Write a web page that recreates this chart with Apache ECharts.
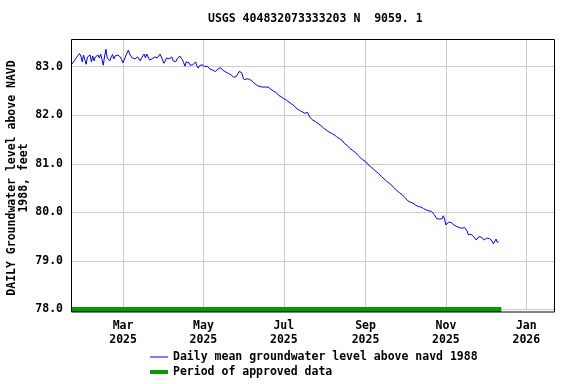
<!DOCTYPE html>
<html>
<head>
<meta charset="utf-8">
<script src="https://cdn.jsdelivr.net/npm/echarts@6/dist/echarts.min.js"></script>
<style>
html,body{margin:0;padding:0;background:#fff;}
#chart{width:576px;height:384px;}
</style>
</head>
<body>
<div id="chart"></div>
<script>
// ---- data ----
const titleText = 'USGS 404832073333203 N  9059. 1';
const yAxisTitle = 'DAILY Groundwater level above NAVD\n1988, feet';
const seriesName = 'Daily mean groundwater level above navd 1988';
const approvedName = 'Period of approved data';
const firstDay = [2025, 0, 21];          // daily values start 2025-01-21
const levels = [
83.05, 83.07, 83.12, 83.09, 83.20, 83.24, 83.27, 83.22, 83.10, 83.24,
83.14, 83.05, 83.20, 83.16, 83.24, 83.10, 83.22, 83.12, 83.20, 83.16,
83.24, 83.18, 83.26, 83.15, 83.03, 83.22, 83.36, 83.18, 83.22, 83.12,
83.20, 83.25, 83.16, 83.22, 83.18, 83.24, 83.27, 83.20, 83.14, 83.08,
83.10, 83.22, 83.28, 83.34, 83.26, 83.22, 83.18, 83.20, 83.16, 83.14,
83.20, 83.16, 83.12, 83.18, 83.22, 83.26, 83.18, 83.26, 83.20, 83.14,
83.10, 83.16, 83.14, 83.20, 83.24, 83.18, 83.22, 83.26, 83.20, 83.14,
83.07, 83.12, 83.18, 83.14, 83.16, 83.18, 83.20, 83.12, 83.16, 83.10,
83.16, 83.20, 83.22, 83.24, 83.14, 83.08, 83.01, 83.10, 83.06, 83.08,
83.03, 83.06, 83.04, 83.08, 83.10, 83.02, 82.97, 83.02, 83.00, 83.04,
83.05, 83.00, 82.98, 83.01, 82.97, 82.95, 82.96, 82.93, 82.92, 82.90,
82.93, 82.95, 82.97, 82.98, 82.95, 82.92, 82.90, 82.89, 82.87, 82.86,
82.85, 82.83, 82.81, 82.78, 82.76, 82.80, 82.85, 82.90, 82.92, 82.88,
82.78, 82.73, 82.74, 82.75, 82.75, 82.74, 82.72, 82.70, 82.67, 82.65,
82.63, 82.61, 82.60, 82.59, 82.59, 82.58, 82.58, 82.58, 82.58, 82.58, 82.57,
82.54, 82.52, 82.50, 82.48, 82.47, 82.44, 82.41, 82.43, 82.38, 82.35,
82.34, 82.33, 82.31, 82.28, 82.27, 82.25, 82.23, 82.21, 82.19, 82.15,
82.13, 82.12, 82.10, 82.08, 82.07, 82.05, 82.04, 82.03, 82.06, 82.00,
81.95, 81.92, 81.90, 81.89, 81.87, 81.84, 81.83, 81.82, 81.79, 81.76,
81.74, 81.72, 81.70, 81.68, 81.66, 81.65, 81.63, 81.62, 81.60, 81.57,
81.56, 81.54, 81.52, 81.50, 81.49, 81.46, 81.42, 81.40, 81.38, 81.34,
81.32, 81.29, 81.28, 81.26, 81.24, 81.20, 81.18, 81.16, 81.13, 81.10,
81.08, 81.07, 81.05, 81.01, 80.98, 80.96, 80.94, 80.91, 80.89, 80.86,
80.84, 80.82, 80.80, 80.77, 80.74, 80.72, 80.69, 80.66, 80.64, 80.62,
80.60, 80.58, 80.55, 80.53, 80.50, 80.47, 80.44, 80.42, 80.40, 80.38,
80.36, 80.33, 80.30, 80.26, 80.24, 80.22, 80.21, 80.20, 80.19, 80.17,
80.15, 80.13, 80.12, 80.12, 80.11, 80.10, 80.08, 80.06, 80.05, 80.04, 80.03,
80.03, 80.02, 80.00, 79.96, 79.92, 79.87, 79.86, 79.86, 79.85, 79.87,
79.93, 79.86, 79.74, 79.78, 79.80, 79.76, 79.79, 79.76, 79.74, 79.72,
79.71, 79.70, 79.69, 79.68, 79.67, 79.66, 79.69, 79.73, 79.62, 79.54,
79.56, 79.55, 79.54, 79.50, 79.47, 79.43, 79.46, 79.50, 79.48, 79.49,
79.45, 79.43, 79.42, 79.47, 79.50, 79.46, 79.45, 79.41, 79.35, 79.38,
79.45, 79.38, 79.40
];
const approvedStart = [2025, 0, 21];
const approvedEnd = [2025, 11, 13];
const approvedLevel = 78.0;
const xTickDates = [[2025, 2, 1], [2025, 4, 1], [2025, 6, 1], [2025, 8, 1], [2025, 10, 1], [2026, 0, 1]];
const xTickLabels = ['Mar\n2025', 'May\n2025', 'Jul\n2025', 'Sep\n2025', 'Nov\n2025', 'Jan\n2026'];
const xRange = [[2025, 0, 20, 12], [2026, 0, 22, 0]];
const yTicks = [78, 79, 80, 81, 82, 83];
const yRange = [78, 83.57];

// ---- build ----
const utc = a => Date.UTC(a[0], a[1], a[2], a[3] || 0);
const levelData = levels.map((v, i) => [Date.UTC(firstDay[0], firstDay[1], firstDay[2] + i), v]);
const approvedData = [[utc(approvedStart), approvedLevel], [utc(approvedEnd), approvedLevel]];
const xTickValues = xTickDates.map(utc);

const FONT = 'DejaVu Sans Mono';
const chart = echarts.init(document.getElementById('chart'), null, {renderer: 'canvas'});
chart.setOption({
  animation: false,
  backgroundColor: '#ffffff',
  textStyle: {fontFamily: FONT, fontWeight: 'bold', fontSize: 11.5, color: '#000'},
  title: {
    text: titleText, left: 203, top: 8,
    textStyle: {fontFamily: FONT, fontWeight: 'bold', fontSize: 11.5, color: '#000'}
  },
  grid: {left: 71, right: 22, top: 39, bottom: 74.5, containLabel: false},
  xAxis: {
    type: 'value',
    min: utc(xRange[0]), max: utc(xRange[1]),
    axisLine: {show: false},
    axisTick: {show: false, customValues: xTickValues},
    splitLine: {show: true, lineStyle: {color: '#cccccc', width: 1}},
    axisLabel: {
      customValues: xTickValues,
      margin: 10,
      lineHeight: 13.5,
      fontFamily: FONT, fontWeight: 'bold', fontSize: 11.5, color: '#000',
      formatter: v => { const i = xTickValues.indexOf(v); return i >= 0 ? xTickLabels[i] : ''; }
    }
  },
  yAxis: {
    type: 'value',
    min: yRange[0], max: yRange[1], interval: 1,
    axisLine: {show: false},
    axisTick: {show: false},
    splitLine: {show: true, lineStyle: {color: '#cccccc', width: 1}},
    axisLabel: {
      margin: 8, showMaxLabel: false,
      fontFamily: FONT, fontWeight: 'bold', fontSize: 11.5, color: '#000',
      formatter: v => yTicks.indexOf(v) >= 0 ? v.toFixed(1) : ''
    }
  },
  legend: {
    orient: 'vertical', left: 150, top: 351, padding: 0,
    itemWidth: 18, itemHeight: 10, itemGap: 3, height: 40,
    symbolKeepAspect: true,
    textStyle: {fontFamily: FONT, fontWeight: 'bold', fontSize: 11.5, color: '#000', lineHeight: 12},
    data: [
      {name: seriesName, icon: 'path://M0,0H18V1H0Z'},
      {name: approvedName, icon: 'path://M0,0H18V4H0Z'}
    ]
  },
  graphic: [
    {
      type: 'rect', z: 100, silent: true,
      shape: {x: 71.5, y: 39.5, width: 483, height: 272.5},
      style: {fill: 'none', stroke: '#000', lineWidth: 1}
    },
    {
      type: 'text', z: 100, silent: true,
      x: 18, y: 178, rotation: Math.PI / 2,
      style: {
        text: yAxisTitle, fill: '#000', align: 'center', verticalAlign: 'middle',
        font: 'bold 11.5px "DejaVu Sans Mono"', lineHeight: 12.5
      }
    }
  ],
  series: [
    {
      name: seriesName, type: 'line', data: levelData,
      symbol: 'none', showSymbol: false,
      lineStyle: {color: '#0000ff', width: 1}, itemStyle: {color: '#0000ff'},
      z: 3
    },
    {
      name: approvedName, type: 'line', data: approvedData,
      symbol: 'none', showSymbol: false, clip: false,
      lineStyle: {color: '#009900', width: 5}, itemStyle: {color: '#009900'},
      z: 2
    }
  ]
});
</script>
</body>
</html>
